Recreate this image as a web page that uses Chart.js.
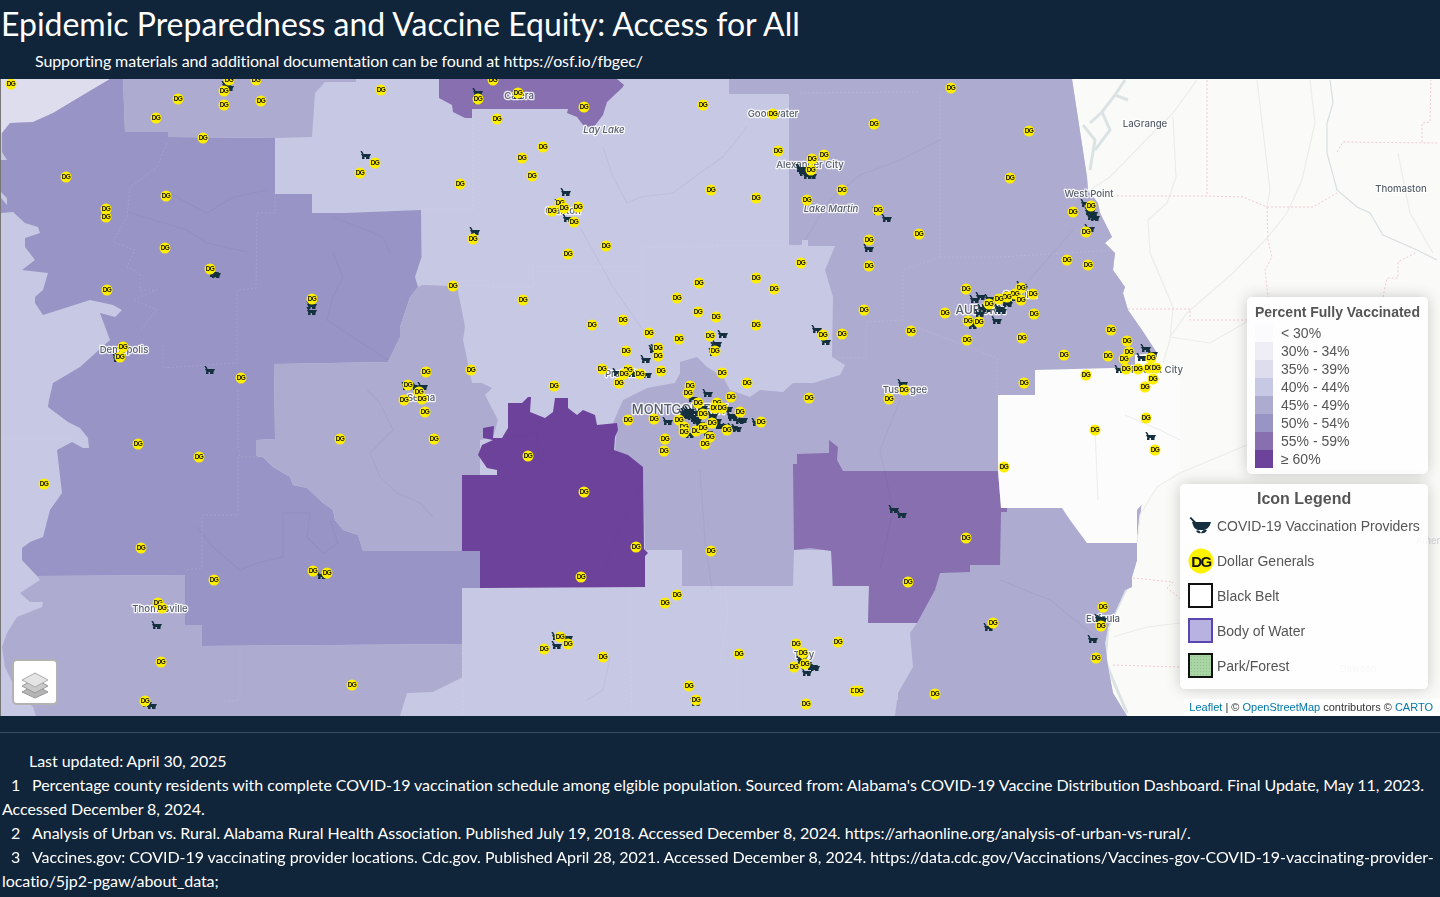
<!DOCTYPE html>
<html>
<head>
<meta charset="utf-8">
<title>Epidemic Preparedness and Vaccine Equity: Access for All</title>
<script src="https://cdn.jsdelivr.net/npm/chart.js@4"></script>
<style>
html, body { margin: 0; padding: 0; width: 1440px; height: 897px; overflow: hidden; background: #10243a; }
body { position: relative; font-family: Lato, sans-serif; color: #fff; }
.line { position: absolute; white-space: nowrap; font-size: 16px; line-height: 24px; letter-spacing: -0.05px; }
#title { position: absolute; left: 1px; top: 3px; font-size: 32px; line-height: 42px; white-space: nowrap; letter-spacing: -0.02px; }
#map { position: absolute; left: 1px; top: 79px; width: 1439px; height: 637px; background: #fafaf8; overflow: hidden; }
#edge { position: absolute; left: 0; top: 79px; width: 1px; height: 637px; background: #777; }
#rule { position: absolute; left: 0; top: 732px; width: 1440px; height: 1px; background: #3d4e60; }
.box { position: absolute; background: rgba(255,255,255,.82); border-radius: 5px; box-shadow: 0 0 15px rgba(0,0,0,.2); font-family: "Liberation Sans", sans-serif; color: #555; font-size: 14px; }
.box div { position: absolute; white-space: nowrap; line-height: 18px; }
#pct { left: 1246px; top: 218px; width: 181px; height: 177px; }
#icons { left: 1179px; top: 405px; width: 248px; height: 205px; }
.sw { box-sizing: border-box; }
#attr { position: absolute; right: 0; bottom: 0; height: 17px; width: 256px; background: rgba(255,255,255,.8); font: 11px/17px "Liberation Sans", sans-serif; color: #333; text-align: right; padding-right: 7px; box-sizing: border-box; white-space: nowrap; }
#attr span { color: #0078a8; }
#layers { position: absolute; left: 11px; top: 580px; width: 42px; height: 42px; background: #fff; border: 2px solid rgba(0,0,0,.3); border-radius: 5px; }
</style>
</head>
<body>
<div id="title">Epidemic Preparedness and Vaccine Equity: Access for All</div>
<div class="line" style="left:35px;top:49px;letter-spacing:-0.1px">Supporting materials and additional documentation can be found at https://osf.io/fbgec/</div>
<div id="edge"></div>
<div id="map">
  <canvas id="mapChart" width="1439" height="637"></canvas>
  <div id="layers">
    <svg width="42" height="42" viewBox="0 0 42 42">
      <polygon points="21,24 34,31 21,37 8,31" fill="#b5b5b5" stroke="#999"/>
      <polygon points="21,18 34,25 21,32 8,25" fill="#c9c9c9" stroke="#999"/>
      <polygon points="21,12 34,19 21,26 8,19" fill="#e4e4e4" stroke="#aaa"/>
    </svg>
  </div>
  <div class="box" id="pct"><div style="left:8px;top:6px;font-weight:bold">Percent Fully Vaccinated</div></div>
  <div class="box" id="icons">
    <div style="left:77px;top:6px;font-weight:bold;font-size:16px">Icon Legend</div>
    <div style="left:9px;top:32px"><svg width="24" height="18" viewBox="0 0 24 18"><path d="M2 1 L8 7 L6 8 L0.5 2 Z M3 6 H22 L21 9 Q19 13 15 14 H9 Q5 13 4 9 Z M7 15 Q10 13 12 17 Q9 18 7 15 Z M12 17 Q14 13 18 14 Q16 18 12 17 Z" fill="#14303f"/></svg></div>
    <div style="left:37px;top:33px">COVID-19 Vaccination Providers</div>
    <div style="left:8px;top:64px"><svg width="26" height="26" viewBox="0 0 26 26"><circle cx="13" cy="13" r="12.5" fill="#fff200"/><text x="13" y="18.5" text-anchor="middle" font-family="Liberation Sans" font-weight="bold" font-size="15" letter-spacing="-1.5" fill="#111">DG</text></svg></div>
    <div style="left:37px;top:68px">Dollar Generals</div>
    <div class="sw" style="left:8px;top:99px;width:25px;height:25px;background:#fff;border:2px solid #111"></div>
    <div style="left:37px;top:103px">Black Belt</div>
    <div class="sw" style="left:8px;top:134px;width:25px;height:25px;background:#b7b2df;border:2px solid #5b45b0"></div>
    <div style="left:37px;top:138px">Body of Water</div>
    <div class="sw" style="left:8px;top:169px;width:25px;height:25px;background:#a9d5a4 radial-gradient(#8fc08c 30%, transparent 35%) 0 0/3px 3px;border:2px solid #111"></div>
    <div style="left:37px;top:173px">Park/Forest</div>
  </div>
  <div id="attr"><span>Leaflet</span> | © <span>OpenStreetMap</span> contributors © <span>CARTO</span></div>
</div>
<div id="rule"></div>
<div class="line" style="left:29px;top:749px">Last updated: April 30, 2025</div>
<div class="line" style="left:11px;top:773px">1</div>
<div class="line" style="left:32px;top:773px">Percentage county residents with complete COVID-19 vaccination schedule among elgible population. Sourced from: Alabama's COVID-19 Vaccine Distribution Dashboard. Final Update, May 11, 2023.</div>
<div class="line" style="left:2px;top:797px">Accessed December 8, 2024.</div>
<div class="line" style="left:11px;top:821px">2</div>
<div class="line" style="left:32px;top:821px">Analysis of Urban vs. Rural. Alabama Rural Health Association. Published July 19, 2018. Accessed December 8, 2024. https://arhaonline.org/analysis-of-urban-vs-rural/.</div>
<div class="line" style="left:11px;top:845px">3</div>
<div class="line" style="left:32px;top:845px">Vaccines.gov: COVID-19 vaccinating provider locations. Cdc.gov. Published April 28, 2021. Accessed December 8, 2024. https://data.cdc.gov/Vaccinations/Vaccines-gov-COVID-19-vaccinating-provider-</div>
<div class="line" style="left:2px;top:869px">locatio/5jp2-pgaw/about_data;</div>

<script>
// legend bins
var binLabels = ['< 30%', '30% - 34%', '35% - 39%', '40% - 44%', '45% - 49%', '50% - 54%', '55% - 59%', '≥ 60%'];
var binColors = ['#fbfbfd', '#efedf5', '#dedded', '#c7c8e3', '#aeabd0', '#9894c5', '#876fb0', '#6c429b'];

// county groups in map units (x, y)
var stateBase = [[1,79],[1072,79],[1087,177],[1088,190],[1098,203],[1100,213],[1112,237],[1105,243],[1115,253],[1113,270],[1125,287],[1123,293],[1128,310],[1142,330],[1157,353],[1157,368],[1137,543],[1137,560],[1132,577],[1132,587],[1125,590],[1117,608],[1108,627],[1105,643],[1108,667],[1113,693],[1127,716],[1,716]];
var band35 = [[1,79],[110,79],[83,95],[53,113],[33,122],[10,123],[2,133],[1,133]];
var band30 = [[918,79],[918,93],[990,92],[1070,93],[1069,79]];
var band50West = [[110,79],[123,79],[125,132],[168,132],[168,137],[275,138],[275,194],[312,194],[312,213],[345,213],[421,210],[421.5,257],[415,277],[418,287],[410,297],[400,327],[400,337],[388,362],[274,364],[275,439],[256,440],[256,456],[263,457],[273,467],[290,477],[293,485],[307,488],[323,503],[333,510],[335,520],[343,530],[358,535],[363,551],[480,551],[480,588],[462,588],[462,644],[202,646],[202,625],[185,625],[185,575],[37,576],[22,560],[22,548],[30,542],[43,537],[50,510],[62,493],[57,450],[72,442],[83,448],[89,448],[88,438],[80,428],[68,422],[48,407],[49,400],[53,383],[80,367],[110,340],[100,313],[115,317],[122,310],[113,305],[90,300],[43,315],[35,303],[35,297],[43,290],[48,273],[22,270],[35,260],[25,247],[25,238],[40,233],[38,227],[25,223],[13,212],[1,213],[1,198],[7,205],[7,198],[1,192],[1,160],[7,160],[2,152],[2,133],[10,123],[33,122],[53,113],[83,95]];
var band45North = [[123,79],[125,132],[168,132],[168,137],[275,138],[312,137],[315,93],[325,82],[356,82],[356,79]];
var band45Selma = [[274,364],[388,362],[400,337],[400,327],[410,297],[418,287],[422,285],[457,286],[465,327],[463,340],[472,383],[482,383],[492,388],[485,395],[498,420],[493,437],[480,440],[480,551],[363,551],[358,535],[343,530],[335,520],[333,510],[323,503],[307,488],[293,485],[290,477],[273,467],[263,457],[256,456],[256,440],[275,439]];
var band45South = [[37,576],[40,580],[20,593],[30,602],[43,602],[42,607],[17,617],[7,633],[2,647],[5,667],[17,692],[33,707],[36,716],[400,716],[407,693],[433,692],[463,677],[462,644],[202,646],[202,625],[185,625],[185,575]];
var band45East = [[729,79],[1072,79],[1087,177],[1088,190],[1098,203],[1100,213],[1112,237],[1105,243],[1115,253],[1113,270],[1125,287],[1123,293],[1128,310],[1142,330],[1157,353],[1157,368],[1137,543],[1137,560],[1132,577],[1132,587],[1125,590],[1117,608],[1108,627],[1105,643],[1108,667],[1113,693],[1127,716],[895,716],[897,700],[898,693],[913,667],[910,633],[917,623],[868,623],[869,586],[832,586],[832,550],[794,550],[793,586],[682,586],[682,550],[645,550],[643,467],[622,455],[615,450],[617,428],[613,423],[623,400],[647,388],[675,383],[680,373],[680,362],[697,357],[707,367],[723,377],[730,390],[750,397],[760,390],[783,392],[793,383],[813,383],[840,375],[845,365],[832,357],[833,297],[825,270],[835,246],[808,246],[808,240],[802,240],[802,245],[790,245],[789,94],[729,94]];
var band55North = [[439,79],[439,98],[452,105],[453,112],[465,118],[472,118],[472,109],[568,109],[567,113],[577,117],[583,125],[593,128],[603,115],[607,102],[622,88],[624,85],[617,79]];
var band55East = [[793,464],[797,464],[797,454],[828,453],[829,440],[838,447],[837,460],[843,471],[998,471],[1001,508],[1007,508],[1007,512],[1001,512],[1000,565],[970,565],[970,572],[940,573],[935,590],[917,623],[868,623],[869,586],[833,586],[831,551],[810,548],[794,550]];
var band60 = [[483,428],[494,426],[493,438],[502,438],[508,428],[508,403],[522,403],[528,397],[531,397],[530,412],[545,418],[553,412],[555,398],[568,398],[568,408],[577,415],[583,410],[595,415],[597,425],[617,423],[618,430],[615,437],[614,450],[628,455],[643,467],[644,549],[648,553],[645,556],[645,587],[480,588],[480,551],[462,551],[462,475],[497,475],[497,470],[487,468],[478,455],[482,445],[493,440],[483,438]];
var bandUnder30 = [[1035,370],[1113,368],[1135,368],[1135,355],[1155,353],[1165,365],[1180,380],[1180,470],[1157,487],[1137,510],[1137,543],[1087,543],[1070,520],[1062,508],[1001,508],[998,471],[998,395],[1035,395]];

// basemap lines outside and inside the counties
var stateLines = [
  [[1113,196],[1207,196],[1243,197],[1267,207],[1313,207],[1337,193]],
  [[1207,80],[1207,196]],
  [[1267,207],[1268,240],[1272,257],[1265,270],[1268,297]],
  [[1337,152],[1343,142],[1437,143]],
  [[1422,142],[1422,123],[1430,122],[1431,80]],
  [[1128,309],[1190,309],[1190,320],[1247,320]],
  [[1383,297],[1387,278],[1398,278],[1398,262],[1415,253]],
  [[1133,578],[1173,582],[1167,588],[1180,598]],
  [[1113,665],[1180,667]]
];
var riverLines = [
  [[1330,80],[1333,103],[1327,123],[1327,153],[1337,190],[1357,207],[1370,213],[1383,235],[1417,250],[1437,260]]
];
var lakeLines = [
  [[1125,80],[1115,95],[1102,112],[1090,123]],
  [[1115,95],[1128,100]],
  [[1102,112],[1110,130],[1095,150]],
  [[1083,125],[1095,140],[1090,170]],
  [[1127,587],[1117,608],[1108,627],[1105,660],[1113,680],[1127,713]]
];
var roadLines = [
  [[1197,80],[1173,113],[1143,143],[1110,177],[1090,190]],
  [[1173,117],[1176,177],[1167,203],[1148,220],[1150,253],[1173,307],[1170,340],[1163,363]],
  [[1268,237],[1233,273],[1187,313],[1170,337]],
  [[1257,80],[1270,190],[1267,207]],
  [[1310,80],[1315,123],[1302,180],[1287,213],[1268,237]],
  [[1398,153],[1410,213],[1433,253]],
  [[1170,337],[1210,343],[1250,320]],
  [[1180,473],[1247,445]],
  [[1113,637],[1147,627],[1180,623]]
];
var roadsOverBlank = [
  [[1125,415],[1160,430],[1180,440]],
  [[1095,430],[1098,500]],
  [[1180,473],[1157,487],[1140,515],[1137,543]]
];
var faintLines = [
  [[128,212],[187,230],[207,243],[247,252]],
  [[167,192],[207,213],[233,197],[267,190]],
  [[333,217],[383,237],[390,253]],
  [[333,253],[343,277],[333,297],[327,320],[357,340],[388,360]],
  [[197,527],[213,547],[240,570],[257,563],[283,557],[283,513],[310,513],[307,537],[323,553],[338,543],[330,520]],
  [[367,390],[380,403],[393,430],[370,453],[380,477],[397,493],[420,503],[433,517]],
  [[513,437],[537,433],[538,457],[567,492]],
  [[643,483],[620,527],[597,587]],
  [[603,147],[613,177],[627,203],[640,197],[673,193],[700,173],[723,157],[747,127]],
  [[580,227],[613,287],[643,330]],
  [[1023,287],[1073,230]],
  [[610,657],[603,690],[587,700]],
  [[940,140],[900,160],[860,175],[830,200],[805,240]],
  [[1000,580],[1050,600],[1100,640]],
  [[700,470],[705,540],[712,590]],
  [[900,400],[880,450],[893,510],[880,570]]
];
var countyLines = [
  [[275,193],[275,213],[257,213],[256,288],[237,290],[237,363],[163,368],[163,345]],
  [[167,143],[157,167],[130,187],[127,217],[113,242],[135,250],[127,267],[140,273],[140,290],[157,290],[133,300],[157,310],[140,330]],
  [[421,210],[473,210],[473,110]],
  [[440,285],[533,287],[533,267],[642,267],[642,247],[790,245]],
  [[642,267],[642,360]],
  [[800,93],[918,92]],
  [[940,93],[940,257],[1000,257],[1113,250]],
  [[940,257],[903,270],[903,320],[867,322],[867,358],[832,358]],
  [[911,325],[997,358],[997,395]],
  [[630,588],[630,640],[632,716]],
  [[725,587],[728,617],[720,662],[738,662],[738,715]],
  [[238,390],[238,445],[240,457],[263,457]],
  [[238,457],[238,515],[202,515],[202,568],[185,570]],
  [[240,650],[240,700],[222,702]],
  [[462,644],[463,716]],
  [[1,438],[73,438]]
];

// place names [text, x, y, kind]
var placeNames = [
  ['LaGrange',1145,123,'town'],['Thomaston',1401,188,'town'],['Dawson',1358,668,'ghost'],['Amer',1428,540,'ghost'],
  ['Calera',519,95,'town'],['Lay Lake',604,129,'water'],['Goodwater',773,113,'town'],['Alexander City',810,164,'town'],
  ['Lake Martin',831,208,'water'],['Clanton',563,210,'town'],['West Point',1089,193,'town'],['Demopolis',124,349,'town'],
  ['Selma',421,397,'town'],['Prattville',625,373,'town'],['MONTGOMERY',680,409,'city'],['AUBURN',981,309,'city2'],
  ['Opelika',1020,294,'town'],['Tuskegee',905,389,'town'],['Phenix City',1157,369,'town'],['Eufaula',1103,618,'town'],
  ['Troy',804,654,'town'],['Thomasville',160,608,'town']
];

// markers
var dollarGenerals = [
  [11,84],[178,99],[224,91],[224,105],[261,101],[156,118],[203,138],[66,177],[166,196],[106,209],[106,217],[165,248],[210,269],[107,290],[312,299],[123,347],[120,357],[241,378],[381,90],[375,163],[360,173],[460,184],[473,239],[453,286],[426,372],[471,370],[408,385],[419,392],[229,80],[256,80],
  [404,400],[422,399],[425,412],[340,439],[434,439],[138,444],[199,457],[44,484],[141,548],[214,580],[313,571],[327,573],[158,603],[162,608],[161,662],[352,685],[145,701],
  [493,80],[478,99],[518,93],[584,107],[497,119],[703,105],[773,114],[543,147],[522,158],[532,176],[711,190],[756,198],[778,151],[812,159],[824,155],[811,170],[807,200],[842,190],[560,203],[564,208],[578,207],[552,211],[574,222],[606,246],[568,254],[801,263],[756,278],[774,289],[699,283],[677,298],[523,300],[698,312],[716,317],[592,325],[623,320],[756,325],[649,333],[679,339],[710,336],[823,335],[842,334],[658,348],[658,356],[626,351],[715,351],[602,369],[628,370],[624,374],[640,374],[661,371],[619,383],[554,386],[722,373],[747,383],[690,386],
  [688,393],[698,403],[731,397],[717,403],[715,408],[722,408],[703,414],[740,412],[679,420],[654,419],[628,420],[712,423],[761,422],[684,427],[684,432],[696,431],[703,428],[727,430],[710,437],[705,444],[665,439],[664,451],[809,398],[528,456],[584,492],[636,547],[711,551],[581,577],[677,595],[665,603],[560,637],[568,644],[544,649],[603,657],[739,654],[689,686],[696,700],[806,704],[796,644],[803,653],[805,664],[794,667],[838,642],
  [951,88],[874,124],[1029,131],[1010,178],[1091,206],[1073,212],[1086,232],[878,210],[919,234],[869,240],[869,266],[1067,260],[1088,265],[966,289],[1021,288],[1033,294],[1015,294],[1007,297],[999,299],[1021,300],[989,304],[1034,314],[864,310],[945,313],[968,321],[979,322],[911,331],[967,340],[1022,338],[1111,330],[1127,341],[1129,352],[1124,359],[1108,356],[1064,355],[1151,358],[1126,369],[1138,369],[1149,368],[1156,368],[1086,375],[1153,379],[1145,387],[1024,383],
  [904,390],[889,399],[1146,418],[1095,430],[1155,450],[1004,467],[966,538],[908,582],[1103,607],[1101,626],[993,623],[1096,658],[855,691],[859,691],[935,694]
];
var vaccineProviders = [
  [227,85],[229,87],[214,273],[216,274],[312,305],[312,311],[120,357],[118,358],[210,370],[366,155],[475,231],[407,386],[413,386],[418,387],[423,386],[478,92],[478,100],[157,625],[322,575],[147,703],[152,705],[518,95],[566,192],[560,203],[568,218],[646,359],[656,348],[654,349],[618,372],[632,373],[647,374],[723,334],[717,343],[716,346],[714,352],[817,329],[826,341],[708,393],[802,168],[803,170],[801,168],[804,172],[808,175],[812,175],
  [668,421],[687,414],[697,420],[703,407],[693,398],[728,408],[733,417],[743,419],[713,415],[690,434],[722,425],[733,427],[757,422],[685,415],[690,410],[695,412],[700,423],[717,420],[690,413],[695,418],[702,407],[720,407],[727,408],[732,415],[740,420],[720,425],[728,427],[737,428],[708,432],[686,412],[688,411],[692,416],
  [557,636],[568,637],[557,645],[696,702],[878,211],[887,218],[869,248],[1086,203],[1093,213],[1091,209],[1090,211],[1092,216],[1095,217],[1090,228],[975,299],[981,296],[990,298],[1000,308],[1008,303],[1007,302],[980,313],[983,308],[987,308],[997,320],[973,325],[977,323],[1002,310],[1022,285],[1023,287],[1012,297],[1146,348],[1142,357],[1120,369],[1153,353],[903,383],
  [894,509],[902,514],[989,627],[1102,619],[1100,618],[1093,639],[1151,436],[802,660],[807,663],[808,665],[812,666],[815,667],[813,666],[807,672],[803,655]
];

function xy(pairs) {
  return pairs.map(function (p) { return { x: p[0], y: p[1] }; });
}

// small offscreen icons used as point styles, even sizes so they land on whole pixels
function dgIcon() {
  var c = document.createElement('canvas');
  c.width = 12; c.height = 12;
  var g = c.getContext('2d');
  g.fillStyle = '#ffee00';
  g.beginPath(); g.arc(6, 6, 5.5, 0, Math.PI * 2); g.fill();
  g.fillStyle = '#111';
  g.font = 'bold 6.5px "Liberation Sans"';
  g.textAlign = 'center';
  g.textBaseline = 'middle';
  g.fillText('D', 4, 6.4);
  g.fillText('G', 8.2, 6.4);
  return c;
}
function providerIcon() {
  var c = document.createElement('canvas');
  c.width = 12; c.height = 8;
  var g = c.getContext('2d');
  g.fillStyle = '#14303f';
  g.strokeStyle = '#14303f';
  g.lineWidth = 1.4;
  g.beginPath(); g.moveTo(1, 0); g.lineTo(3, 3); g.stroke();
  g.beginPath(); g.moveTo(1, 3); g.lineTo(11, 3); g.lineTo(9.5, 6); g.lineTo(2.5, 6); g.fill();
  g.fillRect(2, 6, 2.5, 2);
  g.fillRect(6, 6, 3.5, 2);
  return c;
}

var datasets = [];
function addFill(name, pairs, color) {
  datasets.push({ label: name, data: xy(pairs), showLine: true, fill: 'shape', backgroundColor: color, borderWidth: 0, borderColor: 'transparent', pointRadius: 0, pointHitRadius: 0, tension: 0 });
}
function addLines(name, groups, color, width, dash) {
  groups.forEach(function (pairs, i) {
    datasets.push({ label: name + i, data: xy(pairs), showLine: true, fill: false, borderColor: color, borderWidth: width, borderDash: dash || [], pointRadius: 0, pointHitRadius: 0, tension: 0 });
  });
}

// painter's order, first is at the back
addLines('road', roadLines, '#ececea', 1.2);
addLines('river', riverLines, '#d8dfe1', 1.2);
addLines('lake', lakeLines, '#dbe3e5', 3);
addLines('state', stateLines, '#f2c9cf', 1, [2, 2]);
addFill('40-44', stateBase, binColors[3]);
addFill('35-39', band35, binColors[2]);
addFill('30-34', band30, binColors[1]);
addFill('50-54 west', band50West, binColors[5]);
addFill('45-49 north', band45North, binColors[4]);
addFill('45-49 selma', band45Selma, binColors[4]);
addFill('45-49 south', band45South, binColors[4]);
addFill('45-49 east', band45East, binColors[4]);
addFill('55-59 north', band55North, binColors[6]);
addFill('55-59 east', band55East, binColors[6]);
addFill('60+', band60, binColors[7]);
addFill('<30', bandUnder30, '#fcfcfc');
addLines('over', roadsOverBlank, '#eeeeec', 1.2);
addLines('faint', faintLines, 'rgba(90,85,140,.07)', 1.1);
addLines('county', countyLines, 'rgba(255,235,240,.12)', 1, [2, 2]);
var labelLayer = datasets.length - 1;
datasets.push({ label: 'COVID-19 Vaccination Providers', data: xy(vaccineProviders), pointStyle: providerIcon(), pointRadius: 5, pointHitRadius: 0, showLine: false });
datasets.push({ label: 'Dollar Generals', data: xy(dollarGenerals), pointStyle: dgIcon(), pointRadius: 6, pointHitRadius: 0, showLine: false });
datasets.forEach(function (d, i) { d.order = datasets.length - i; });

var nameFonts = {
  town: '500 9.6px Inter', water: 'italic 500 9.6px Inter', city: '500 13px Inter', city2: '500 12px Inter', ghost: '500 9.6px Inter'
};
var placeNamePlugin = {
  id: 'placeNames',
  afterDatasetDraw: function (chart, args) {
    if (args.index !== labelLayer) return;
    var ctx = chart.ctx;
    var xs = chart.scales.x, ys = chart.scales.y;
    ctx.save();
    ctx.textAlign = 'center';
    ctx.textBaseline = 'middle';
    ctx.lineJoin = 'round';
    placeNames.forEach(function (n) {
      var x = xs.getPixelForValue(n[1]), y = ys.getPixelForValue(n[2]) + 1;
      ctx.font = nameFonts[n[3]];
      if (n[3] !== 'ghost') {
        ctx.strokeStyle = 'rgba(255,255,255,.85)';
        ctx.lineWidth = 2.5;
        ctx.strokeText(n[0], x, y);
      }
      ctx.fillStyle = n[3] === 'ghost' ? '#d8d8d8' : '#58606c';
      ctx.fillText(n[0], x, y);
    });
    ctx.restore();
  }
};

// legend rows
var pct = document.getElementById('pct');
binLabels.forEach(function (t, i) {
  var sw = document.createElement('div');
  sw.style.cssText = 'left:8px;width:18px;height:18px;top:' + (27 + i * 18) + 'px;background:' + binColors[i];
  pct.appendChild(sw);
  var lab = document.createElement('div');
  lab.style.cssText = 'left:34px;top:' + (27 + i * 18) + 'px';
  lab.textContent = t;
  pct.appendChild(lab);
});

var mapChart = new Chart(document.getElementById('mapChart').getContext('2d'), {
  type: 'scatter',
  data: { datasets: datasets },
  options: {
    responsive: false,
    animation: false,
    devicePixelRatio: 1,
    layout: { padding: 0, autoPadding: false },
    plugins: { legend: { display: false }, tooltip: { enabled: false } },
    scales: {
      x: { type: 'linear', min: 1, max: 1440, display: false },
      y: { type: 'linear', min: 79, max: 716, reverse: true, display: false }
    }
  },
  plugins: [placeNamePlugin]
});
</script>
</body>
</html>
